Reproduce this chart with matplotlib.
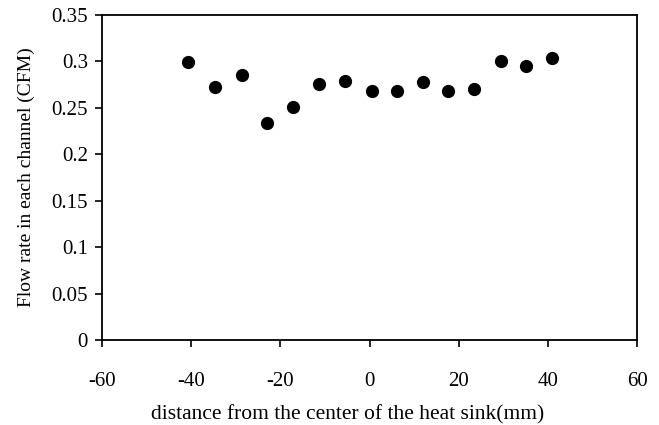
import matplotlib
matplotlib.use('Agg')
import matplotlib.pyplot as plt

# distance from heat sink center (mm) and flow rate per channel (CFM)
distance = [-40.7, -34.7, -28.7, -22.9, -17.2, -11.4, -5.4, 0.5,
            6.1, 11.9, 17.7, 23.4, 29.4, 35.2, 41.0]
flow_rate = [0.299, 0.273, 0.285, 0.234, 0.251, 0.276, 0.279, 0.268,
             0.268, 0.278, 0.268, 0.270, 0.300, 0.295, 0.304]

x_ticks = [-60, -40, -20, 0, 20, 40, 60]
y_ticks = [0, 0.05, 0.1, 0.15, 0.2, 0.25, 0.3, 0.35]
y_tick_labels = ['0', '0.05', '0.1', '0.15', '0.2', '0.25', '0.3', '0.35']

plt.rcParams['font.family'] = ['Liberation Serif', 'DejaVu Serif']

fig = plt.figure(figsize=(6.59, 4.25), dpi=100)
ax = fig.add_axes([102 / 659, 1 - 340 / 425, 535 / 659, 325 / 425])

ax.plot(distance, flow_rate, 'o', color='black', markersize=8.5)

ax.set_xlim(-60, 60)
ax.set_ylim(0, 0.35)
ax.set_xticks(x_ticks)
ax.set_xticklabels([str(t) for t in x_ticks])
ax.set_yticks(y_ticks)
ax.set_yticklabels(y_tick_labels)
ax.tick_params(axis='both', direction='out', length=5, width=1.2,
               labelsize=15, colors='black')
ax.tick_params(axis='x', pad=18)
ax.tick_params(axis='y', pad=5)
for side in ax.spines.values():
    side.set_linewidth(1.3)
    side.set_color('black')

ax.set_xlabel('distance from the center of the heat sink(mm)', fontsize=15.5)
ax.xaxis.set_label_coords(0.46, -0.2)
ax.set_ylabel('Flow rate in each channel (CFM)', fontsize=14, labelpad=12)

fig.savefig('out.png', dpi=100)
